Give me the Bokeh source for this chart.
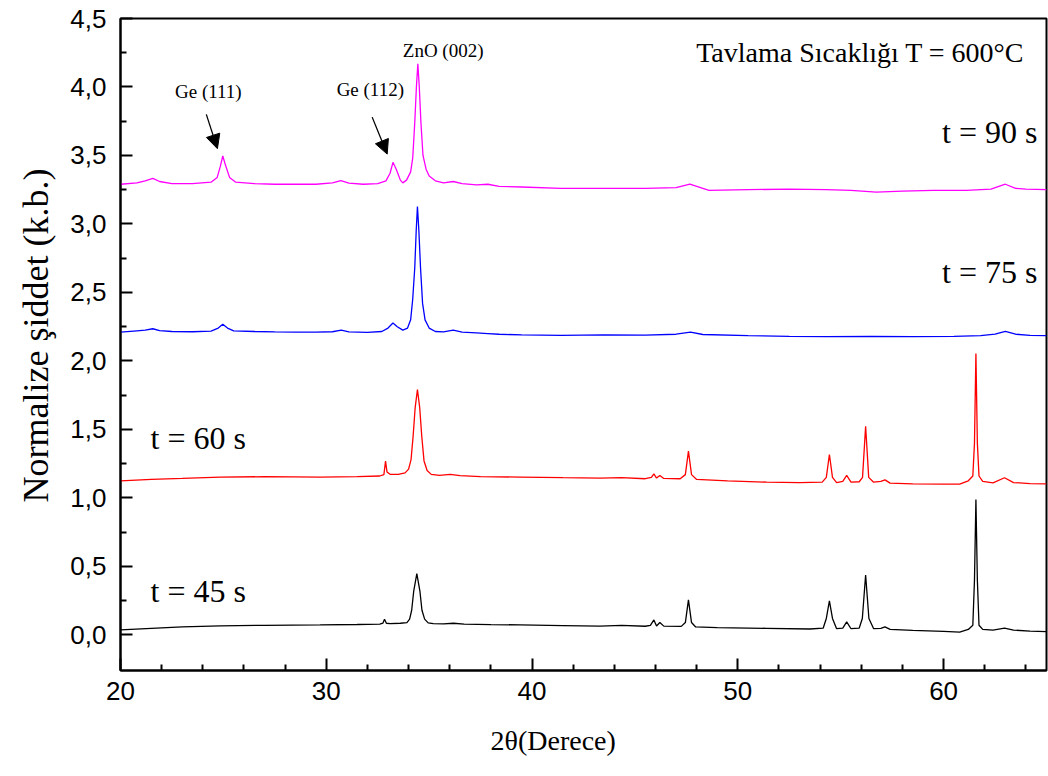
from bokeh.plotting import figure
from bokeh.models import FixedTicker, Range1d, Arrow, NormalHead, Label, Title
from bokeh.embed import file_html
from bokeh.resources import INLINE

# XRD patterns (2θ, normalized intensity), annealing at 600 °C
t45 = [(20.0, 0.036), (21.5, 0.048), (23.0, 0.058), (24.85, 0.066), (27.0, 0.07), (29.7, 0.073),
       (31.5, 0.076), (32.6, 0.078), (32.75, 0.085), (32.83, 0.114), (32.92, 0.085), (33.1, 0.082),
       (33.6, 0.085), (33.92, 0.09), (34.05, 0.115), (34.15, 0.18), (34.25, 0.32), (34.4, 0.447),
       (34.55, 0.32), (34.65, 0.18), (34.78, 0.115), (34.95, 0.088), (35.2, 0.082), (35.7, 0.08),
       (36.18, 0.085), (36.7, 0.078), (38.0, 0.075), (39.42, 0.073), (41.5, 0.068), (43.3, 0.064),
       (44.35, 0.07), (45.5, 0.063), (45.75, 0.07), (45.92, 0.109), (46.05, 0.065), (46.21, 0.09),
       (46.4, 0.064), (47.25, 0.062), (47.45, 0.09), (47.6, 0.255), (47.75, 0.09), (47.95, 0.058),
       (49.0, 0.053), (51.4, 0.048), (53.5, 0.043), (54.15, 0.05), (54.3, 0.12), (54.45, 0.248),
       (54.6, 0.12), (54.8, 0.045), (55.1, 0.05), (55.29, 0.095), (55.5, 0.045), (55.9, 0.05),
       (56.05, 0.12), (56.21, 0.437), (56.37, 0.12), (56.6, 0.045), (56.95, 0.048), (57.15, 0.058),
       (57.4, 0.04), (58.5, 0.033), (60.0, 0.025), (60.78, 0.02), (61.2, 0.04), (61.42, 0.07),
       (61.5, 0.4), (61.57, 0.989), (61.64, 0.4), (61.72, 0.07), (61.9, 0.04), (62.4, 0.035),
       (62.96, 0.049), (63.4, 0.035), (64.2, 0.028), (65.0, 0.024)]

t60 = [(20.0, 1.125), (21.5, 1.135), (23.0, 1.142), (24.85, 1.152), (27.0, 1.155), (29.7, 1.152),
       (31.5, 1.156), (32.6, 1.16), (32.8, 1.17), (32.88, 1.268), (32.95, 1.19), (33.1, 1.172),
       (33.5, 1.172), (33.83, 1.183), (34.0, 1.21), (34.12, 1.28), (34.22, 1.45), (34.32, 1.66),
       (34.43, 1.79), (34.54, 1.66), (34.64, 1.45), (34.75, 1.27), (34.9, 1.20), (35.1, 1.172),
       (35.5, 1.165), (36.02, 1.172), (36.5, 1.162), (37.5, 1.155), (39.42, 1.152), (41.5, 1.148),
       (43.3, 1.145), (44.35, 1.148), (45.5, 1.14), (45.8, 1.15), (45.92, 1.176), (46.05, 1.145),
       (46.21, 1.164), (46.4, 1.142), (47.2, 1.14), (47.45, 1.17), (47.6, 1.341), (47.75, 1.17),
       (48.0, 1.135), (49.5, 1.125), (51.4, 1.115), (53.0, 1.112), (54.1, 1.115), (54.3, 1.15),
       (54.45, 1.317), (54.6, 1.15), (54.8, 1.112), (55.1, 1.12), (55.29, 1.164), (55.5, 1.115),
       (55.9, 1.118), (56.06, 1.15), (56.21, 1.523), (56.36, 1.15), (56.6, 1.115), (56.95, 1.12),
       (57.15, 1.132), (57.4, 1.108), (58.5, 1.103), (60.0, 1.1), (60.78, 1.1), (61.2, 1.125),
       (61.42, 1.16), (61.5, 1.4), (61.57, 2.055), (61.64, 1.4), (61.72, 1.16), (61.9, 1.12),
       (62.4, 1.11), (62.96, 1.147), (63.4, 1.112), (64.2, 1.105), (65.0, 1.103)]

t75 = [(20.0, 2.21), (20.8, 2.22), (21.2, 2.225), (21.57, 2.235), (21.9, 2.222), (22.5, 2.215),
       (23.5, 2.213), (24.4, 2.218), (24.75, 2.24), (24.97, 2.268), (25.2, 2.24), (25.5, 2.22),
       (26.5, 2.215), (27.5, 2.212), (28.5, 2.21), (29.5, 2.21), (30.3, 2.213), (30.73, 2.225),
       (31.1, 2.212), (32.0, 2.208), (32.7, 2.215), (33.0, 2.24), (33.24, 2.277), (33.45, 2.25),
       (33.72, 2.225), (33.95, 2.24), (34.1, 2.30), (34.2, 2.45), (34.3, 2.68), (34.37, 2.95),
       (34.43, 3.127), (34.5, 2.95), (34.58, 2.68), (34.68, 2.42), (34.8, 2.30), (35.0, 2.24),
       (35.3, 2.215), (35.7, 2.212), (36.17, 2.225), (36.6, 2.21), (37.3, 2.205), (37.85, 2.20),
       (38.4, 2.195), (39.5, 2.19), (41.4, 2.187), (43.5, 2.19), (45.5, 2.188), (47.0, 2.195),
       (47.7, 2.21), (48.3, 2.193), (50.5, 2.185), (52.5, 2.18), (54.3, 2.177), (56.5, 2.18),
       (58.5, 2.178), (60.5, 2.18), (61.8, 2.185), (62.5, 2.195), (63.0, 2.216), (63.5, 2.195),
       (64.2, 2.187), (65.0, 2.185)]

t90 = [(20.0, 3.29), (20.8, 3.30), (21.2, 3.315), (21.57, 3.333), (21.9, 3.31), (22.5, 3.295),
       (23.5, 3.295), (24.4, 3.305), (24.7, 3.34), (24.85, 3.42), (24.97, 3.496), (25.1, 3.43),
       (25.3, 3.34), (25.6, 3.305), (26.5, 3.295), (27.5, 3.29), (28.5, 3.29), (29.5, 3.29),
       (30.3, 3.30), (30.71, 3.316), (31.1, 3.298), (31.8, 3.29), (32.5, 3.295), (32.9, 3.315),
       (33.1, 3.37), (33.24, 3.45), (33.4, 3.40), (33.6, 3.32), (33.72, 3.30), (33.9, 3.32),
       (34.1, 3.38), (34.2, 3.48), (34.3, 3.74), (34.38, 4.0), (34.45, 4.17), (34.52, 4.0),
       (34.6, 3.74), (34.7, 3.50), (34.85, 3.40), (35.0, 3.35), (35.3, 3.315), (35.7, 3.30),
       (36.17, 3.31), (36.6, 3.295), (37.3, 3.285), (37.85, 3.29), (38.4, 3.275), (39.5, 3.27),
       (41.4, 3.26), (43.5, 3.26), (45.5, 3.26), (47.0, 3.265), (47.67, 3.29), (48.3, 3.26),
       (48.6, 3.245), (50.5, 3.25), (52.5, 3.255), (54.3, 3.25), (55.5, 3.245), (56.73, 3.232),
       (58.0, 3.24), (59.5, 3.245), (61.1, 3.245), (62.3, 3.255), (63.0, 3.29), (63.5, 3.26),
       (64.0, 3.255), (65.0, 3.25)]

series = [(t45, "black"), (t60, "#ff0000"), (t75, "#0000ff"), (t90, "#ff00ff")]

x_ticks = [20, 30, 40, 50, 60]
x_minor = [22, 24, 26, 28, 32, 34, 36, 38, 42, 44, 46, 48, 52, 54, 56, 58, 62, 64]
y_ticks = [0.0, 0.5, 1.0, 1.5, 2.0, 2.5, 3.0, 3.5, 4.0, 4.5]
y_tick_labels = ["0,0", "0,5", "1,0", "1,5", "2,0", "2,5", "3,0", "3,5", "4,0", "4,5"]
y_minor = [0.25, 0.75, 1.25, 1.75, 2.25, 2.75, 3.25, 3.75, 4.25]

p = figure(width=1048, height=776, x_range=Range1d(20, 65), y_range=Range1d(-0.26, 4.5),
           output_backend="svg", toolbar_location=None,
           min_border_left=120, min_border_right=2, min_border_top=18, min_border_bottom=106)
p.background_fill_color = "white"
p.border_fill_color = "white"
p.xgrid.visible = False
p.ygrid.visible = False
p.outline_line_color = "black"
p.outline_line_width = 2
p.outline_line_alpha = 1.0

for data, color in series:
    xs = [a for a, _ in data]
    ys = [b for _, b in data]
    p.line(xs, ys, line_color=color, line_width=1.3)

for ax in (p.xaxis, p.yaxis):
    ax.axis_line_width = 2
    ax.axis_line_color = "black"
    ax.major_tick_line_width = 2
    ax.minor_tick_line_width = 2
    ax.major_tick_in = 12
    ax.major_tick_out = 0
    ax.minor_tick_in = 6
    ax.minor_tick_out = 0
    ax.major_label_text_font = "Liberation Sans"
    ax.major_label_text_color = "black"

p.xaxis.ticker = FixedTicker(ticks=x_ticks, minor_ticks=x_minor)
p.yaxis.ticker = FixedTicker(ticks=y_ticks, minor_ticks=y_minor)
p.yaxis.major_label_overrides = {t: s for t, s in zip(y_ticks, y_tick_labels)}
p.xaxis.major_label_text_font_size = "26px"
p.yaxis.major_label_text_font_size = "26px"
p.xaxis.major_label_standoff = 11
p.yaxis.major_label_standoff = 14

serif = "Liberation Serif"

# axis titles, placed as side titles so they can sit off-centre
p.add_layout(Title(text="2θ(Derece)", align="left", offset=370, standoff=40,
                   text_font=serif, text_font_size="28px", text_font_style="normal",
                   text_color="black"), "below")
p.add_layout(Title(text="Normalize şiddet (k.b.)", align="left", offset=168, standoff=23,
                   text_font=serif, text_font_size="36px", text_font_style="normal",
                   text_color="black"), "left")

# peak labels
for txt, x, y in [("Ge (111)", 24.27, 3.97), ("Ge (112)", 32.14, 3.98), ("ZnO (002)", 35.68, 4.27)]:
    p.add_layout(Label(x=x, y=y, text=txt, text_align="center", text_baseline="middle",
                       text_font=serif, text_font_size="19px", text_color="black"))

p.add_layout(Label(x=63.93, y=4.25, text="Tavlama Sıcaklığı T = 600°C", text_align="right",
                   text_baseline="middle", text_font=serif, text_font_size="28px", text_color="black"))
for txt, x, y, align in [("t = 90 s", 64.56, 3.67, "right"), ("t = 75 s", 64.56, 2.65, "right"),
                         ("t = 60 s", 21.46, 1.44, "left"), ("t = 45 s", 21.46, 0.32, "left")]:
    p.add_layout(Label(x=x, y=y, text=txt, text_align=align, text_baseline="middle",
                       text_font=serif, text_font_size="32px", text_color="black"))

for xs, ys, xe, ye in [(24.17, 3.80, 24.71, 3.55), (32.23, 3.78, 32.96, 3.51)]:
    p.add_layout(Arrow(end=NormalHead(size=14, fill_color="black", line_color="black"),
                       x_start=xs, y_start=ys, x_end=xe, y_end=ye,
                       line_color="black", line_width=1.3))

open("out.html", "w").write(file_html(p, INLINE))
